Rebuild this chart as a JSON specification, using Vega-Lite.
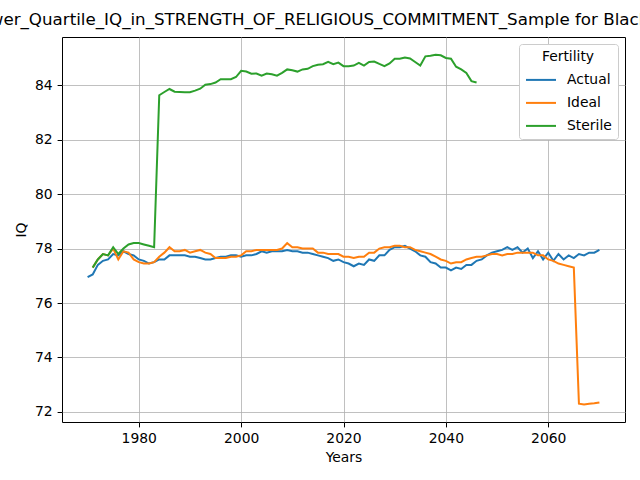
{
  "$schema": "https://vega.github.io/schema/vega-lite/v6.json",
  "autosize": "none",
  "width": 563,
  "height": 385,
  "padding": {"left": 62, "top": 37, "right": 15, "bottom": 58},
  "title": {"text": "Lower_Quartile_IQ_in_STRENGTH_OF_RELIGIOUS_COMMITMENT_Sample for Black Women", "font": "DejaVu Sans", "fontSize": 16.7, "fontWeight": "normal", "color": "black", "anchor": "middle", "offset": 8},
  "config": {
    "view": {"stroke": "black", "strokeWidth": 1},
    "axis": {"domain": false, "tickColor": "black", "tickSize": 4.9, "labelFont": "DejaVu Sans", "labelFontSize": 13.9, "labelColor": "black", "titleFont": "DejaVu Sans", "titleFontSize": 13.9, "titleFontWeight": "normal", "titleColor": "black", "gridColor": "#b0b0b0", "gridWidth": 0.8, "labelPadding": 4.9},
    "legend": {"labelFont": "DejaVu Sans", "labelFontSize": 13.9, "labelColor": "black", "titleFont": "DejaVu Sans", "titleFontSize": 13.9, "titleFontWeight": "normal", "titleColor": "black"}
  },
  "data": {"values": [
    {"Year":1970,"Actual":76.95,"Ideal":null,"Sterile":null},
    {"Year":1971,"Actual":77.05,"Ideal":77.3,"Sterile":77.3},
    {"Year":1972,"Actual":77.4,"Ideal":77.6,"Sterile":77.6},
    {"Year":1973,"Actual":77.55,"Ideal":77.8,"Sterile":77.8},
    {"Year":1974,"Actual":77.6,"Ideal":77.75,"Sterile":77.75},
    {"Year":1975,"Actual":77.8,"Ideal":78.0,"Sterile":78.05},
    {"Year":1976,"Actual":77.75,"Ideal":77.6,"Sterile":77.8},
    {"Year":1977,"Actual":77.9,"Ideal":77.9,"Sterile":78.0},
    {"Year":1978,"Actual":77.8,"Ideal":77.85,"Sterile":78.15},
    {"Year":1979,"Actual":77.75,"Ideal":77.6,"Sterile":78.2},
    {"Year":1980,"Actual":77.6,"Ideal":77.5,"Sterile":78.2},
    {"Year":1981,"Actual":77.55,"Ideal":77.45,"Sterile":78.15},
    {"Year":1982,"Actual":77.45,"Ideal":77.45,"Sterile":78.1},
    {"Year":1983,"Actual":77.5,"Ideal":77.5,"Sterile":78.05},
    {"Year":1984,"Actual":77.6,"Ideal":77.7,"Sterile":83.63},
    {"Year":1985,"Actual":77.6,"Ideal":77.85,"Sterile":83.75},
    {"Year":1986,"Actual":77.75,"Ideal":78.05,"Sterile":83.86},
    {"Year":1987,"Actual":77.75,"Ideal":77.9,"Sterile":83.76},
    {"Year":1988,"Actual":77.75,"Ideal":77.9,"Sterile":83.75},
    {"Year":1989,"Actual":77.75,"Ideal":77.95,"Sterile":83.74},
    {"Year":1990,"Actual":77.7,"Ideal":77.85,"Sterile":83.74},
    {"Year":1991,"Actual":77.7,"Ideal":77.9,"Sterile":83.8},
    {"Year":1992,"Actual":77.65,"Ideal":77.95,"Sterile":83.87},
    {"Year":1993,"Actual":77.6,"Ideal":77.85,"Sterile":84.02},
    {"Year":1994,"Actual":77.6,"Ideal":77.8,"Sterile":84.04},
    {"Year":1995,"Actual":77.65,"Ideal":77.65,"Sterile":84.1},
    {"Year":1996,"Actual":77.7,"Ideal":77.65,"Sterile":84.22},
    {"Year":1997,"Actual":77.7,"Ideal":77.65,"Sterile":84.22},
    {"Year":1998,"Actual":77.75,"Ideal":77.7,"Sterile":84.22},
    {"Year":1999,"Actual":77.75,"Ideal":77.7,"Sterile":84.3},
    {"Year":2000,"Actual":77.7,"Ideal":77.75,"Sterile":84.53},
    {"Year":2001,"Actual":77.75,"Ideal":77.9,"Sterile":84.5},
    {"Year":2002,"Actual":77.75,"Ideal":77.9,"Sterile":84.42},
    {"Year":2003,"Actual":77.8,"Ideal":77.95,"Sterile":84.43},
    {"Year":2004,"Actual":77.9,"Ideal":77.95,"Sterile":84.35},
    {"Year":2005,"Actual":77.85,"Ideal":77.95,"Sterile":84.43},
    {"Year":2006,"Actual":77.9,"Ideal":77.95,"Sterile":84.4},
    {"Year":2007,"Actual":77.9,"Ideal":77.95,"Sterile":84.35},
    {"Year":2008,"Actual":77.9,"Ideal":78.0,"Sterile":84.45},
    {"Year":2009,"Actual":77.95,"Ideal":78.2,"Sterile":84.58},
    {"Year":2010,"Actual":77.9,"Ideal":78.05,"Sterile":84.55},
    {"Year":2011,"Actual":77.9,"Ideal":78.05,"Sterile":84.5},
    {"Year":2012,"Actual":77.85,"Ideal":78.0,"Sterile":84.58},
    {"Year":2013,"Actual":77.85,"Ideal":78.0,"Sterile":84.6},
    {"Year":2014,"Actual":77.8,"Ideal":78.0,"Sterile":84.7},
    {"Year":2015,"Actual":77.75,"Ideal":77.85,"Sterile":84.75},
    {"Year":2016,"Actual":77.7,"Ideal":77.85,"Sterile":84.77},
    {"Year":2017,"Actual":77.65,"Ideal":77.8,"Sterile":84.86},
    {"Year":2018,"Actual":77.55,"Ideal":77.8,"Sterile":84.77},
    {"Year":2019,"Actual":77.6,"Ideal":77.8,"Sterile":84.83},
    {"Year":2020,"Actual":77.5,"Ideal":77.7,"Sterile":84.7},
    {"Year":2021,"Actual":77.45,"Ideal":77.7,"Sterile":84.7},
    {"Year":2022,"Actual":77.35,"Ideal":77.65,"Sterile":84.72},
    {"Year":2023,"Actual":77.45,"Ideal":77.7,"Sterile":84.82},
    {"Year":2024,"Actual":77.4,"Ideal":77.7,"Sterile":84.72},
    {"Year":2025,"Actual":77.6,"Ideal":77.85,"Sterile":84.85},
    {"Year":2026,"Actual":77.55,"Ideal":77.85,"Sterile":84.87},
    {"Year":2027,"Actual":77.75,"Ideal":78.0,"Sterile":84.78},
    {"Year":2028,"Actual":77.75,"Ideal":78.05,"Sterile":84.7},
    {"Year":2029,"Actual":77.95,"Ideal":78.05,"Sterile":84.8},
    {"Year":2030,"Actual":78.05,"Ideal":78.1,"Sterile":84.97},
    {"Year":2031,"Actual":78.05,"Ideal":78.1,"Sterile":84.97},
    {"Year":2032,"Actual":78.1,"Ideal":78.05,"Sterile":85.02},
    {"Year":2033,"Actual":78.0,"Ideal":78.05,"Sterile":84.98},
    {"Year":2034,"Actual":77.9,"Ideal":77.95,"Sterile":84.85},
    {"Year":2035,"Actual":77.75,"Ideal":77.9,"Sterile":84.72},
    {"Year":2036,"Actual":77.7,"Ideal":77.85,"Sterile":85.06},
    {"Year":2037,"Actual":77.5,"Ideal":77.8,"Sterile":85.08},
    {"Year":2038,"Actual":77.45,"Ideal":77.7,"Sterile":85.12},
    {"Year":2039,"Actual":77.3,"Ideal":77.6,"Sterile":85.1},
    {"Year":2040,"Actual":77.3,"Ideal":77.55,"Sterile":85.0},
    {"Year":2041,"Actual":77.2,"Ideal":77.45,"Sterile":84.97},
    {"Year":2042,"Actual":77.3,"Ideal":77.5,"Sterile":84.68},
    {"Year":2043,"Actual":77.25,"Ideal":77.5,"Sterile":84.58},
    {"Year":2044,"Actual":77.4,"Ideal":77.6,"Sterile":84.45},
    {"Year":2045,"Actual":77.4,"Ideal":77.65,"Sterile":84.15},
    {"Year":2046,"Actual":77.55,"Ideal":77.7,"Sterile":84.1},
    {"Year":2047,"Actual":77.6,"Ideal":77.7,"Sterile":null},
    {"Year":2048,"Actual":77.75,"Ideal":77.75,"Sterile":null},
    {"Year":2049,"Actual":77.85,"Ideal":77.8,"Sterile":null},
    {"Year":2050,"Actual":77.9,"Ideal":77.8,"Sterile":null},
    {"Year":2051,"Actual":77.95,"Ideal":77.75,"Sterile":null},
    {"Year":2052,"Actual":78.05,"Ideal":77.8,"Sterile":null},
    {"Year":2053,"Actual":77.95,"Ideal":77.8,"Sterile":null},
    {"Year":2054,"Actual":78.05,"Ideal":77.85,"Sterile":null},
    {"Year":2055,"Actual":77.85,"Ideal":77.85,"Sterile":null},
    {"Year":2056,"Actual":78.0,"Ideal":77.85,"Sterile":null},
    {"Year":2057,"Actual":77.65,"Ideal":77.85,"Sterile":null},
    {"Year":2058,"Actual":77.9,"Ideal":77.75,"Sterile":null},
    {"Year":2059,"Actual":77.6,"Ideal":77.75,"Sterile":null},
    {"Year":2060,"Actual":77.85,"Ideal":77.6,"Sterile":null},
    {"Year":2061,"Actual":77.55,"Ideal":77.55,"Sterile":null},
    {"Year":2062,"Actual":77.8,"Ideal":77.45,"Sterile":null},
    {"Year":2063,"Actual":77.6,"Ideal":77.4,"Sterile":null},
    {"Year":2064,"Actual":77.75,"Ideal":77.35,"Sterile":null},
    {"Year":2065,"Actual":77.65,"Ideal":77.3,"Sterile":null},
    {"Year":2066,"Actual":77.8,"Ideal":72.3,"Sterile":null},
    {"Year":2067,"Actual":77.75,"Ideal":72.27,"Sterile":null},
    {"Year":2068,"Actual":77.85,"Ideal":72.3,"Sterile":null},
    {"Year":2069,"Actual":77.85,"Ideal":72.32,"Sterile":null},
    {"Year":2070,"Actual":77.95,"Ideal":72.35,"Sterile":null}
  ]},
  "transform": [
    {"fold": ["Actual", "Ideal", "Sterile"], "as": ["Fertility", "IQ"]}
  ],
  "mark": {"type": "line", "strokeWidth": 2, "clip": true},
  "encoding": {
    "x": {"field": "Year", "type": "quantitative", "title": "Years",
      "scale": {"domain": [1965, 2075], "nice": false, "zero": false},
      "axis": {"values": [1980, 2000, 2020, 2040, 2060], "format": "d", "titlePadding": 5}},
    "y": {"field": "IQ", "type": "quantitative", "title": "IQ",
      "scale": {"domain": [71.63, 85.77], "nice": false, "zero": false},
      "axis": {"values": [72, 74, 76, 78, 80, 82, 84], "titlePadding": 6}},
    "color": {"field": "Fertility", "type": "nominal",
      "scale": {"domain": ["Actual", "Ideal", "Sterile"], "range": ["#1f77b4", "#ff7f0e", "#2ca02c"]},
      "legend": {"orient": "top-right", "offset": 7, "title": "Fertility", "titleAnchor": "middle",
        "symbolType": "stroke", "symbolStrokeWidth": 2, "symbolSize": 900,
        "fillColor": "white", "strokeColor": "#cccccc", "padding": 6, "cornerRadius": 3,
        "rowPadding": -11, "labelOffset": 10, "titlePadding": 0}}
  }
}
